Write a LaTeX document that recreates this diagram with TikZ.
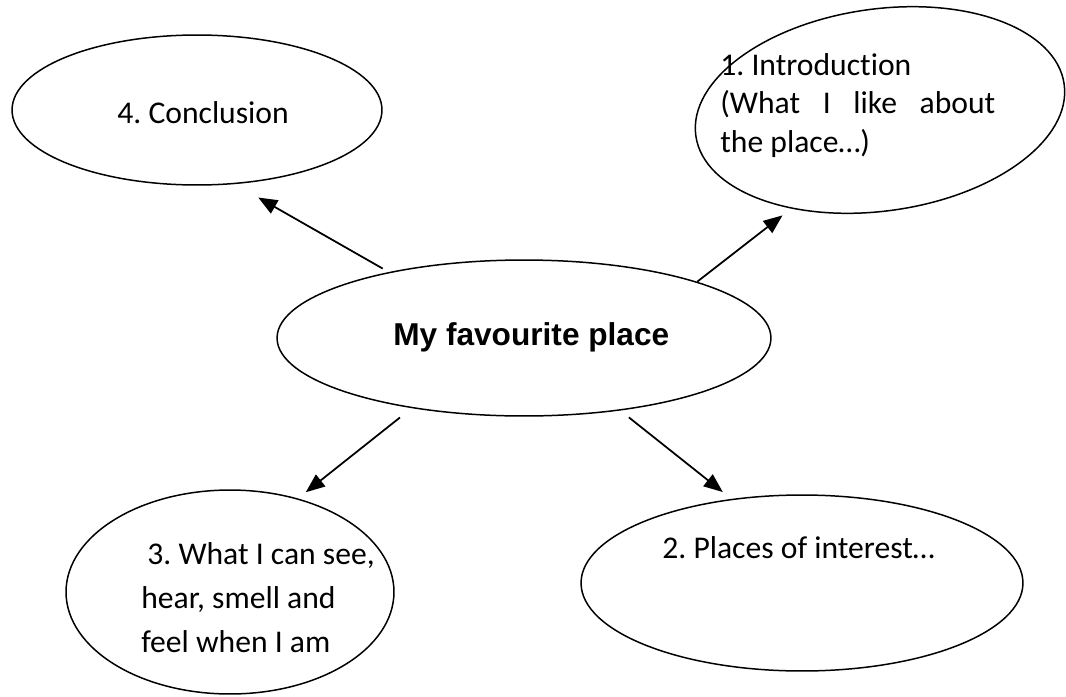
\documentclass[tikz,border=0pt]{standalone}
\usepackage{fontspec}
\setmainfont{Carlito}[Ligatures=NoCommon]
\newfontfamily\headfont{Liberation Sans}
\usetikzlibrary{shapes.geometric,arrows.meta}
\frenchspacing

\begin{document}
\begin{tikzpicture}[x=0.02cm,y=-0.02cm,
	bubble/.style={draw,ellipse,line width=0.85pt,inner sep=0pt},
	txt/.style={inner sep=0pt,anchor=base west,font=\fontsize{18pt}{22pt}\selectfont},
	arrow/.style={-{Triangle[length=0.38cm,width=0.3cm]},line width=1pt}]
\useasboundingbox (0,0) rectangle (1066,697);
% the five bubbles
\node[bubble,minimum width=9.88cm,minimum height=3.12cm] (hub) at (524,338) {};
\node[bubble,minimum width=7.4cm,minimum height=3.0cm] (concl) at (197,110) {};
\node[bubble,minimum width=7.44cm,minimum height=4.04cm,rotate=8] (intro) at (880,110) {};
\node[bubble,minimum width=6.56cm,minimum height=4.08cm] (see) at (230,592) {};
\node[bubble,minimum width=8.84cm,minimum height=3.52cm] (places) at (802,583) {};
% texts (multi-line ones sit on their last baseline)
\node[txt,font=\fontsize{18pt}{22pt}\headfont\bfseries] (hub-txt) at (393,345) {My favourite place};
\node[txt] (concl-txt) at (117,123) {4. Conclusion};
\node[txt,text width=5.5cm,align=justify] (intro-txt) at (720,75)
	{1. Introduction\par (What I like about\linebreak the place…)};
\node[txt,align=left,font=\fontsize{18pt}{25pt}\selectfont] (see-txt) at (141,652)
	{\hspace{0.12cm}3. What I can see,\\ hear, smell and\\ feel when I am};
\node[txt] (places-txt) at (662,558) {2. Places of interest…};
% arrows out of the hub
\draw[arrow,shorten <=0.14cm,shorten >=0.54cm] (hub.154) -- (concl.-63);
\draw[arrow,shorten >=0.22cm] (hub.18) -- (intro.220);
\draw[arrow,shorten <=0.3cm,shorten >=0.2cm] (hub.212) -- (see.54);
\draw[arrow,shorten <=0.22cm,shorten >=0.22cm] (hub.-37) -- (places.130);
\end{tikzpicture}
\end{document}
